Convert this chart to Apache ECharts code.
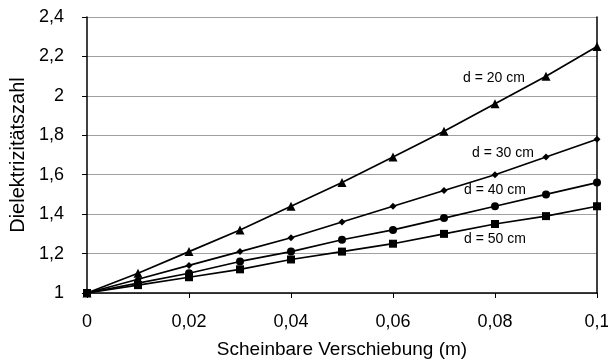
<!DOCTYPE html>
<html>
<head>
<meta charset="utf-8">
<script src="https://cdn.jsdelivr.net/npm/echarts@6/dist/echarts.min.js"></script>
<style>
  html, body { margin: 0; padding: 0; background: #fff; }
  #chart { width: 608px; height: 362px; }
</style>
</head>
<body>
<div id="chart"></div>
<script>
// Scheinbare Verschiebung (m)
const shifts = [0, 0.01, 0.02, 0.03, 0.04, 0.05, 0.06, 0.07, 0.08, 0.09, 0.1];
// Dielektrizitätszahl per Abstand d
const d20 = [1, 1.10, 1.21, 1.32, 1.44, 1.56, 1.69, 1.82, 1.96, 2.10, 2.25];
const d30 = [1, 1.07, 1.14, 1.21, 1.28, 1.36, 1.44, 1.52, 1.60, 1.69, 1.78];
const d40 = [1, 1.05, 1.10, 1.16, 1.21, 1.27, 1.32, 1.38, 1.44, 1.50, 1.56];
const d50 = [1, 1.04, 1.08, 1.12, 1.17, 1.21, 1.25, 1.30, 1.35, 1.39, 1.44];
const seriesNames = ['d = 20 cm', 'd = 30 cm', 'd = 40 cm', 'd = 50 cm'];

const FONT = '"Liberation Sans", Arial, sans-serif';
const fmt = v => String(Math.round(v * 100) / 100).replace('.', ',');
const pairs = ys => shifts.map((x, i) => [x, ys[i]]);

function line(name, ys, symbol, size) {
  return {
    name, type: 'line', data: pairs(ys),
    symbol, symbolSize: size,
    lineStyle: { color: '#000', width: 1.7 },
    itemStyle: { color: '#000' },
    z: 3
  };
}

function tag(text, x, y) {
  return {
    type: 'text', x, y, z: 10,
    style: { text, font: '14px ' + FONT, fill: '#000', verticalAlign: 'middle' }
  };
}

const chart = echarts.init(document.getElementById('chart'), null, { renderer: 'canvas' });
chart.setOption({
  animation: false,
  backgroundColor: '#fff',
  grid: { left: 87, right: 11, top: 17, bottom: 69, outerBoundsMode: 'none', containLabel: false },
  xAxis: {
    type: 'value', min: 0, max: 0.1, interval: 0.02,
    name: 'Scheinbare Verschiebung (m)', nameLocation: 'middle', nameGap: 47,
    nameTextStyle: { fontFamily: FONT, fontSize: 19, color: '#000' },
    axisLine: { lineStyle: { color: '#000', width: 1.5 } },
    axisTick: { show: true, length: 5, lineStyle: { color: '#000' } },
    axisLabel: { formatter: fmt, fontFamily: FONT, fontSize: 18, color: '#000', margin: 20 },
    splitLine: { show: false }
  },
  yAxis: [{
    type: 'value', min: 1, max: 2.4, interval: 0.2,
    name: 'Dielektrizitätszahl', nameLocation: 'middle', nameGap: 59, nameRotate: 90,
    nameTextStyle: { fontFamily: FONT, fontSize: 20, color: '#000' },
    axisLine: { show: true, lineStyle: { color: '#000', width: 1.5 } },
    axisTick: { show: true, length: 5, lineStyle: { color: '#000' } },
    axisLabel: { formatter: fmt, fontFamily: FONT, fontSize: 18, color: '#000', margin: 23 },
    splitLine: { show: true, lineStyle: { color: '#a0a0a0', width: 1 } }
  }, {
    type: 'value', min: 1, max: 2.4, interval: 0.2, position: 'right',
    axisLine: { show: true, lineStyle: { color: '#000', width: 1.5 } },
    axisTick: { show: false }, axisLabel: { show: false }, splitLine: { show: false }
  }],
  series: [
    line(seriesNames[0], d20, 'triangle', 9),
    line(seriesNames[1], d30, 'diamond', 7),
    line(seriesNames[2], d40, 'circle', 8),
    line(seriesNames[3], d50, 'rect', 8)
  ],
  graphic: [
    tag(seriesNames[0], 463, 78),
    tag(seriesNames[1], 472, 153),
    tag(seriesNames[2], 464, 190),
    tag(seriesNames[3], 464, 239)
  ]
});
</script>
</body>
</html>
